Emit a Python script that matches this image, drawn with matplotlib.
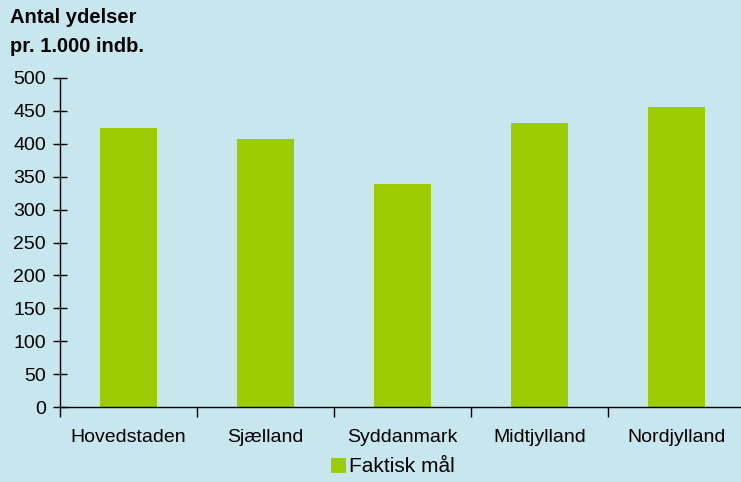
import numpy as np
import matplotlib.pyplot as plt
from matplotlib.patches import Patch

regions = ["Hovedstaden", "Sjælland", "Syddanmark", "Midtjylland", "Nordjylland"]
values = [424, 407, 339, 432, 456]
y_ticks = [0, 50, 100, 150, 200, 250, 300, 350, 400, 450, 500]

bg = "#c8e6ee"
green = "#9acc00"

plt.rcParams['font.family'] = ['Liberation Sans', 'DejaVu Sans']

fig = plt.figure(figsize=(7.41, 4.82), dpi=100, facecolor=bg)
ax = fig.add_axes([60 / 741, 1 - 407 / 482, 685 / 741, 329 / 482])
ax.set_facecolor(bg)

x = np.arange(len(regions))
ax.bar(x, values, width=0.41, color=green)

ax.set_xlim(-0.5, len(regions) - 0.5)
ax.set_ylim(0, 500)
ax.set_yticks(y_ticks)
ax.set_yticklabels([str(t) for t in y_ticks], fontsize=14)

# category ticks sit at the boundaries, labels in the middle
ax.set_xticks(np.arange(len(regions) + 1) - 0.5)
ax.set_xticklabels([])
ax.set_xticks(x, minor=True)
ax.set_xticklabels(regions, minor=True, fontsize=14)
ax.tick_params(axis='x', which='major', direction='out', length=7, width=1, color='black')
ax.tick_params(axis='x', which='minor', length=0, pad=16)
ax.tick_params(axis='y', direction='inout', length=10, width=1, pad=5, color='black')

for side in ['top', 'right']:
    ax.spines[side].set_visible(False)
ax.spines['left'].set_linewidth(1)
ax.spines['bottom'].set_linewidth(1)

fig.text(10 / 741, 1 - 8 / 482, "Antal ydelser\npr. 1.000 indb.", fontsize=14.5,
         fontweight='bold', ha='left', va='top', linespacing=1.7)

handle = Patch(facecolor=green, edgecolor='none')
fig.legend([handle], ["Faktisk mål"], loc='center', bbox_to_anchor=(393 / 741, 1 - 467 / 482),
           frameon=False, fontsize=15, handlelength=0.75, handleheight=0.75,
           handletextpad=0.15)

fig.savefig("out.png", dpi=100, facecolor=bg)
